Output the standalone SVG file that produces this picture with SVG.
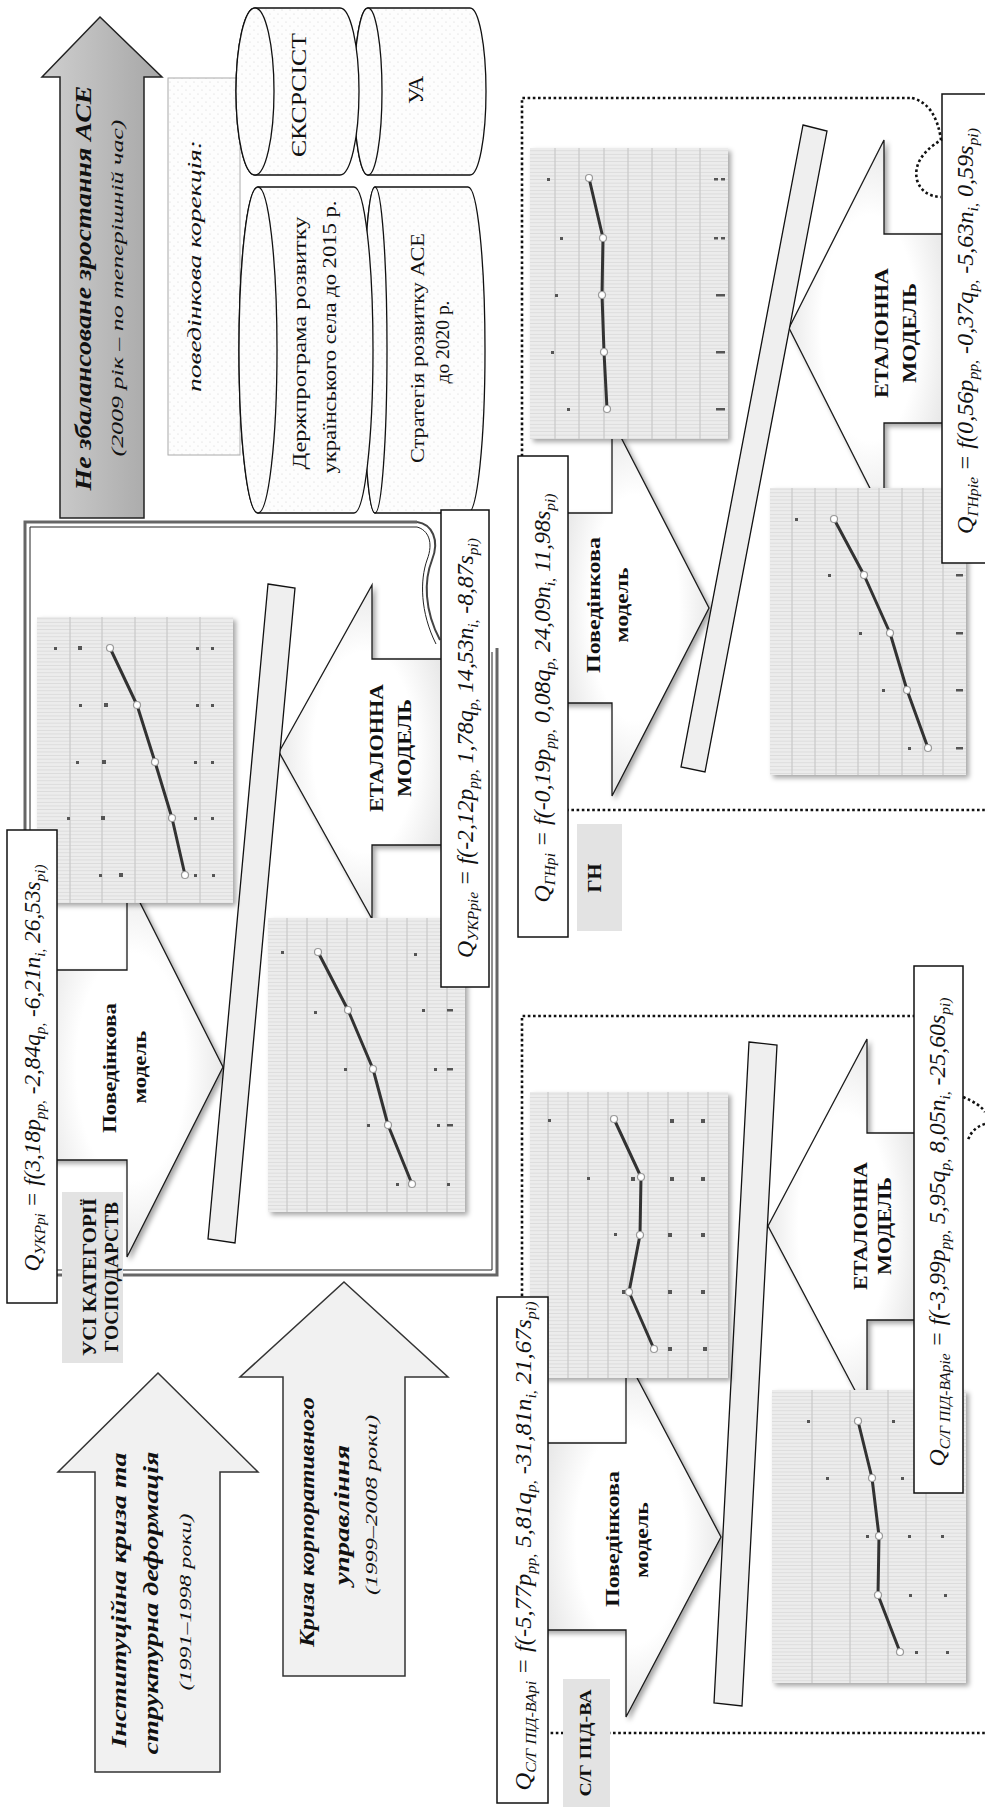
<svg xmlns="http://www.w3.org/2000/svg" width="985" height="1807" viewBox="0 0 985 1807">
<defs>
<style>
text{font-family:"Liberation Serif","DejaVu Serif",serif;fill:#111}
.b{font-weight:bold}
.i{font-style:italic}
.fm{font-style:italic;font-size:23px}
.sb{font-size:15px}
.dotf{fill:none;stroke:#111;stroke-width:2.6;stroke-dasharray:2.6 2.6}
.box{fill:#fff;stroke:#111;stroke-width:1.5}
.lab{fill:#e3e3e3}
.bar{fill:#efefef;stroke:#111;stroke-width:1.3}
.vg{stroke:#c9c9c9;stroke-width:1.2}
.dt{fill:#555}
.sl{fill:none;stroke:#333;stroke-width:3;stroke-linejoin:round}
.mk{fill:#fff;stroke:#999;stroke-width:1.2}
.cyl{fill:url(#dots);stroke:#111;stroke-width:1.3}
.arr{stroke:#1a1a1a;stroke-width:1.3}
</style>
<pattern id="fine" width="10" height="3.6" patternUnits="userSpaceOnUse"><rect width="10" height="3.6" fill="#ececec"/><rect y="3" width="10" height="0.6" fill="#d3d3d3"/></pattern>
<pattern id="dots" width="8" height="8" patternUnits="userSpaceOnUse"><rect width="8" height="8" fill="#fdfdfd"/><circle cx="2" cy="2" r="0.6" fill="#d2d2d2"/><circle cx="6" cy="6" r="0.6" fill="#d2d2d2"/></pattern>
<linearGradient id="gg" x1="0" y1="0" x2="1" y2="0"><stop offset="0" stop-color="#cfcfcf"/><stop offset="1" stop-color="#a6a6a6"/></linearGradient>
<radialGradient id="ag" cx="0.5" cy="0.5" r="0.6"><stop offset="0.5" stop-color="#ffffff"/><stop offset="1" stop-color="#dedede"/></radialGradient>
<filter id="sh" x="-10%" y="-10%" width="130%" height="130%"><feDropShadow dx="3" dy="3" stdDeviation="2.5" flood-color="#000" flood-opacity="0.35"/></filter>
</defs>
<rect width="985" height="1807" fill="#fff"/>

<g id="arrow-growth">
<polygon points="100,17 162,77 144,77 144,518 60,518 60,77 42,77" fill="url(#gg)" stroke="#222" stroke-width="1.5"/>
<text class="b i" font-size="24" transform="translate(91,288) rotate(-90)" text-anchor="middle" textLength="405" lengthAdjust="spacingAndGlyphs">Не збалансоване зростання АСЕ</text>
<text class="i" font-size="17" transform="translate(123,288) rotate(-90)" text-anchor="middle" textLength="337" lengthAdjust="spacingAndGlyphs">(2009 рік – по теперішній час)</text>
</g>

<g id="correction">
<rect x="168" y="78" width="72" height="377" fill="url(#dots)" stroke="#aaa" stroke-width="1"/>
<text class="i" font-size="19" transform="translate(201,266) rotate(-90)" text-anchor="middle" textLength="252" lengthAdjust="spacingAndGlyphs">поведінкова корекція:</text>
</g>

<g id="cyl-ua">
<path class="cyl" d="M368,8 H470 A16,83.5 0 0 1 470,175 H368 A14,83.5 0 0 1 368,8 Z"/>
<ellipse class="cyl" cx="368" cy="91.5" rx="14" ry="83.5"/>
</g>
<g id="cyl-strategy">
<path class="cyl" d="M375,187 H468 A17,163 0 0 1 468,513 H375 A12,163 0 0 1 375,187 Z"/>
<ellipse class="cyl" cx="375" cy="350" rx="12" ry="163"/>
</g>
<g id="cyl-eksrsist">
<path class="cyl" d="M255,8 H340 A19,83.5 0 0 1 340,175 H255 A19,83.5 0 0 1 255,8 Z"/>
<ellipse class="cyl" cx="255" cy="91.5" rx="19" ry="83.5"/>
</g>
<g id="cyl-derzh">
<path class="cyl" d="M258,187 H354 A19,163 0 0 1 354,513 H258 A19,163 0 0 1 258,187 Z"/>
<ellipse class="cyl" cx="258" cy="350" rx="19" ry="163"/>
</g>
<g id="cyl-texts">
<text font-size="22" transform="translate(306,95) rotate(-90)" text-anchor="middle" textLength="124" lengthAdjust="spacingAndGlyphs">ЄКСРСІСТ</text>
<text font-size="22" transform="translate(423,90) rotate(-90)" text-anchor="middle" textLength="28" lengthAdjust="spacingAndGlyphs">УА</text>
<text font-size="19" transform="translate(306,343) rotate(-90)" text-anchor="middle" textLength="253" lengthAdjust="spacingAndGlyphs">Держпрограма розвитку</text>
<text font-size="19" transform="translate(336,337) rotate(-90)" text-anchor="middle" textLength="273" lengthAdjust="spacingAndGlyphs">українського села до 2015 р.</text>
<text font-size="19" transform="translate(424,348) rotate(-90)" text-anchor="middle" textLength="230" lengthAdjust="spacingAndGlyphs">Стратегія розвитку АСЕ</text>
<text font-size="19" transform="translate(449,342) rotate(-90)" text-anchor="middle" textLength="83" lengthAdjust="spacingAndGlyphs">до 2020 р.</text>
</g>

<!-- УКР panel -->
<g id="panel-ukr">
<path d="M417,522 H25 V1275 H497 V648" fill="none" stroke="#666" stroke-width="3"/>
<path d="M417,527 H30 V1270 H492 V652" fill="none" stroke="#222" stroke-width="1"/>
<path d="M417,522 C432,524 440,540 432,560 C424,580 424,610 440,640" fill="none" stroke="#444" stroke-width="2"/>
<path d="M417,527 C428,530 434,542 427,560 C420,580 420,612 436,644" fill="none" stroke="#222" stroke-width="1"/>
<polygon class="arr" points="279,752 372,585 372,659 450,659 450,845 372,845 372,919" fill="url(#ag)" filter="url(#sh)"/>
<polygon class="arr" points="40,970 127,970 127,877 223,1067 127,1257 127,1160 40,1160" fill="url(#ag)" filter="url(#sh)"/>
<polygon class="bar" points="268,584 295,588 235,1243 208,1239"/>
<g id="chart-ukr-1" filter="url(#sh)">
<rect x="37" y="617" width="196" height="286" fill="url(#fine)"/>
<path class="vg" d="M70,617V903M102,617V903M135,617V903M167,617V903M200,617V903"/>
<g class="dt"><rect x="54" y="647" width="3" height="3"/><rect x="78" y="646" width="4" height="4"/><rect x="196" y="647" width="3" height="3"/><rect x="211" y="647" width="3" height="3"/>
<rect x="79" y="704" width="3" height="3"/><rect x="104" y="703" width="4" height="4"/><rect x="196" y="704" width="3" height="3"/><rect x="211" y="704" width="3" height="3"/>
<rect x="76" y="761" width="3" height="3"/><rect x="102" y="760" width="4" height="4"/><rect x="194" y="761" width="3" height="3"/><rect x="211" y="761" width="3" height="3"/>
<rect x="67" y="817" width="3" height="3"/><rect x="101" y="816" width="4" height="4"/><rect x="194" y="817" width="3" height="3"/><rect x="211" y="817" width="3" height="3"/>
<rect x="99" y="874" width="3" height="3"/><rect x="119" y="873" width="4" height="4"/><rect x="194" y="874" width="3" height="3"/><rect x="212" y="874" width="3" height="3"/></g>
<polyline class="sl" points="110,648 137,705 155,762 172,818 185,875"/>
<g class="mk"><circle cx="110" cy="648" r="3.5"/><circle cx="137" cy="705" r="3.5"/><circle cx="155" cy="762" r="3.5"/><circle cx="172" cy="818" r="3.5"/><circle cx="185" cy="875" r="3.5"/></g>
</g>
<g id="chart-ukr-2" filter="url(#sh)">
<rect x="268" y="918" width="197" height="294" fill="url(#fine)"/>
<path class="vg" d="M287,918V1212M307,918V1212M327,918V1212M347,918V1212M367,918V1212M387,918V1212M407,918V1212M427,918V1212M447,918V1212"/>
<g class="dt"><rect x="281" y="951" width="3" height="3"/><rect x="314" y="1011" width="3" height="3"/><rect x="414" y="953" width="3" height="3"/>
<rect x="344" y="1068" width="3" height="3"/><rect x="367" y="1124" width="3" height="3"/><rect x="396" y="1183" width="3" height="3"/>
<rect x="422" y="1009" width="3" height="3"/><rect x="434" y="1068" width="3" height="3"/><rect x="437" y="1124" width="3" height="3"/><rect x="447" y="1183" width="3" height="3"/>
<rect x="447" y="1009" width="6" height="2.5"/><rect x="447" y="1068" width="6" height="2.5"/><rect x="447" y="1124" width="6" height="2.5"/></g>
<polyline class="sl" points="318,952 348,1010 373,1069 388,1125 412,1184"/>
<g class="mk"><circle cx="318" cy="952" r="3.5"/><circle cx="348" cy="1010" r="3.5"/><circle cx="373" cy="1069" r="3.5"/><circle cx="388" cy="1125" r="3.5"/><circle cx="412" cy="1184" r="3.5"/></g>
</g>
<text class="b" font-size="19" transform="translate(116,1068) rotate(-90)" text-anchor="middle" textLength="130" lengthAdjust="spacingAndGlyphs">Поведінкова</text>
<text class="b" font-size="19" transform="translate(146,1067) rotate(-90)" text-anchor="middle" textLength="73" lengthAdjust="spacingAndGlyphs">модель</text>
<text class="b" font-size="19" transform="translate(383,748) rotate(-90)" text-anchor="middle" textLength="128" lengthAdjust="spacingAndGlyphs">ЕТАЛОННА</text>
<text class="b" font-size="19" transform="translate(411,748) rotate(-90)" text-anchor="middle" textLength="98" lengthAdjust="spacingAndGlyphs">МОДЕЛЬ</text>
</g>
<g id="label-ukr">
<rect class="lab" x="62" y="1192" width="61" height="171"/>
<text class="b" font-size="19" transform="translate(96,1277) rotate(-90)" text-anchor="middle" textLength="158" lengthAdjust="spacingAndGlyphs">УСІ КАТЕГОРІЇ</text>
<text class="b" font-size="19" transform="translate(118,1277) rotate(-90)" text-anchor="middle" textLength="150" lengthAdjust="spacingAndGlyphs">ГОСПОДАРСТВ</text>
</g>
<g id="formula-ukr-pi">
<rect class="box" x="7" y="830" width="50" height="473"/>
<text class="fm" transform="translate(40,1068) rotate(-90)" text-anchor="middle" textLength="407" lengthAdjust="spacingAndGlyphs">Q<tspan class="sb" dy="5">УКРpi</tspan><tspan dy="-5"> = f(3,18p</tspan><tspan class="sb" dy="5">pp,</tspan><tspan dy="-5"> -2,84q</tspan><tspan class="sb" dy="5">p,</tspan><tspan dy="-5"> -6,21n</tspan><tspan class="sb" dy="5">i,</tspan><tspan dy="-5"> 26,53s</tspan><tspan class="sb" dy="5">pi)</tspan></text>
</g>
<g id="formula-ukr-pie">
<rect class="box" x="441" y="510" width="48" height="477"/>
<text class="fm" transform="translate(473,748) rotate(-90)" text-anchor="middle" textLength="420" lengthAdjust="spacingAndGlyphs">Q<tspan class="sb" dy="5">УКРpie</tspan><tspan dy="-5"> = f(-2,12p</tspan><tspan class="sb" dy="5">pp,</tspan><tspan dy="-5"> 1,78q</tspan><tspan class="sb" dy="5">p,</tspan><tspan dy="-5"> 14,53n</tspan><tspan class="sb" dy="5">i,</tspan><tspan dy="-5"> -8,87s</tspan><tspan class="sb" dy="5">pi)</tspan></text>
</g>

<g id="arrow-crisis1">
<polygon points="158,1373 258,1472 220,1472 220,1772 95,1772 95,1472 58,1472" fill="#f1f1f1" stroke="#333" stroke-width="1.5"/>
<text class="b i" font-size="22" transform="translate(126,1600) rotate(-90)" text-anchor="middle" textLength="295" lengthAdjust="spacingAndGlyphs">Інституційна криза та</text>
<text class="b i" font-size="22" transform="translate(158,1603) rotate(-90)" text-anchor="middle" textLength="303" lengthAdjust="spacingAndGlyphs">структурна деформація</text>
<text class="i" font-size="16" transform="translate(191,1602) rotate(-90)" text-anchor="middle" textLength="177" lengthAdjust="spacingAndGlyphs">(1991–1998 роки)</text>
</g>
<g id="arrow-crisis2">
<polygon points="344,1282 448,1377 405,1377 405,1676 283,1676 283,1377 240,1377" fill="#f1f1f1" stroke="#333" stroke-width="1.5"/>
<text class="b i" font-size="22" transform="translate(314,1522) rotate(-90)" text-anchor="middle" textLength="250" lengthAdjust="spacingAndGlyphs">Криза корпоративного</text>
<text class="b i" font-size="22" transform="translate(349,1515) rotate(-90)" text-anchor="middle" textLength="140" lengthAdjust="spacingAndGlyphs">управління</text>
<text class="i" font-size="16" transform="translate(377,1505) rotate(-90)" text-anchor="middle" textLength="180" lengthAdjust="spacingAndGlyphs">(1999–2008 роки)</text>
</g>

<!-- ГН panel -->
<g id="panel-gn">
<path class="dotf" d="M990,810 H522 V98 H912"/>
<polygon class="arr" points="789,328 884,140 884,234 950,234 950,423 884,423 884,516" fill="url(#ag)" filter="url(#sh)"/>
<polygon class="arr" points="560,513 612,513 612,420 709,608 612,796 612,703 560,703" fill="url(#ag)" filter="url(#sh)"/>
<polygon class="bar" points="803,125 827,131 705,772 681,767"/>
<g id="chart-gn-1" filter="url(#sh)">
<rect x="530" y="148" width="198" height="291" fill="url(#fine)"/>
<path class="vg" d="M555,148V439M579,148V439M604,148V439M628,148V439M652,148V439M676,148V439M700,148V439"/>
<g class="dt"><rect x="547" y="178" width="3" height="3"/><rect x="560" y="237" width="3" height="3"/><rect x="555" y="294" width="3" height="3"/><rect x="551" y="351" width="3" height="3"/><rect x="567" y="408" width="3" height="3"/>
<rect x="714" y="178" width="4" height="2.5"/><rect x="721" y="178" width="4" height="2.5"/><rect x="714" y="237" width="4" height="2.5"/><rect x="721" y="237" width="4" height="2.5"/><rect x="716" y="294" width="9" height="2.5"/><rect x="716" y="351" width="9" height="2.5"/><rect x="716" y="408" width="9" height="2.5"/></g>
<polyline class="sl" points="589,178 603,238 602,295 604,352 607,409"/>
<g class="mk"><circle cx="589" cy="178" r="3.5"/><circle cx="603" cy="238" r="3.5"/><circle cx="602" cy="295" r="3.5"/><circle cx="604" cy="352" r="3.5"/><circle cx="607" cy="409" r="3.5"/></g>
</g>
<g id="chart-gn-2" filter="url(#sh)">
<rect x="770" y="488" width="196" height="287" fill="url(#fine)"/>
<path class="vg" d="M792,488V775M815,488V775M836,488V775M858,488V775M879,488V775M902,488V775M923,488V775M943,488V775"/>
<g class="dt"><rect x="795" y="518" width="3" height="3"/><rect x="828" y="574" width="3" height="3"/><rect x="859" y="632" width="3" height="3"/><rect x="882" y="689" width="3" height="3"/><rect x="908" y="747" width="3" height="3"/>
<rect x="956" y="574" width="7" height="2.5"/><rect x="956" y="632" width="7" height="2.5"/><rect x="956" y="689" width="7" height="2.5"/><rect x="956" y="747" width="7" height="2.5"/></g>
<polyline class="sl" points="834,519 864,575 890,633 907,690 928,748"/>
<g class="mk"><circle cx="834" cy="519" r="3.5"/><circle cx="864" cy="575" r="3.5"/><circle cx="890" cy="633" r="3.5"/><circle cx="907" cy="690" r="3.5"/><circle cx="928" cy="748" r="3.5"/></g>
</g>
<text class="b" font-size="19" transform="translate(600,605) rotate(-90)" text-anchor="middle" textLength="136" lengthAdjust="spacingAndGlyphs">Поведінкова</text>
<text class="b" font-size="19" transform="translate(628,605) rotate(-90)" text-anchor="middle" textLength="75" lengthAdjust="spacingAndGlyphs">модель</text>
<text class="b" font-size="19" transform="translate(888,333) rotate(-90)" text-anchor="middle" textLength="130" lengthAdjust="spacingAndGlyphs">ЕТАЛОННА</text>
<text class="b" font-size="19" transform="translate(916,333) rotate(-90)" text-anchor="middle" textLength="100" lengthAdjust="spacingAndGlyphs">МОДЕЛЬ</text>
</g>
<g id="label-gn">
<rect class="lab" x="577" y="824" width="45" height="107"/>
<text class="b" font-size="19" transform="translate(601,878) rotate(-90)" text-anchor="middle" textLength="29" lengthAdjust="spacingAndGlyphs">ГН</text>
</g>
<g id="formula-gn-pi">
<rect class="box" x="518" y="456" width="50" height="481"/>
<text class="fm" transform="translate(550,698) rotate(-90)" text-anchor="middle" textLength="409" lengthAdjust="spacingAndGlyphs">Q<tspan class="sb" dy="5">ГНpi</tspan><tspan dy="-5"> = f(-0,19p</tspan><tspan class="sb" dy="5">pp,</tspan><tspan dy="-5"> 0,08q</tspan><tspan class="sb" dy="5">p,</tspan><tspan dy="-5"> 24,09n</tspan><tspan class="sb" dy="5">i,</tspan><tspan dy="-5"> 11,98s</tspan><tspan class="sb" dy="5">pi)</tspan></text>
</g>
<g id="formula-gn-pie">
<rect class="box" x="942" y="94" width="50" height="469"/>
<text class="fm" transform="translate(973,331) rotate(-90)" text-anchor="middle" textLength="406" lengthAdjust="spacingAndGlyphs">Q<tspan class="sb" dy="5">ГНpie</tspan><tspan dy="-5"> = f(0,56p</tspan><tspan class="sb" dy="5">pp,</tspan><tspan dy="-5"> -0,37q</tspan><tspan class="sb" dy="5">p,</tspan><tspan dy="-5"> -5,63n</tspan><tspan class="sb" dy="5">i,</tspan><tspan dy="-5"> 0,59s</tspan><tspan class="sb" dy="5">pi)</tspan></text>
</g>

<!-- С/Г panel -->
<g id="panel-sg">
<path class="dotf" d="M990,1733 H522 V1016 H914"/>
<polygon class="arr" points="768,1226 867,1039 867,1133 920,1133 920,1320 867,1320 867,1413" fill="url(#ag)" filter="url(#sh)"/>
<polygon class="arr" points="540,1443 626,1443 626,1357 721,1537 626,1717 626,1630 540,1630" fill="url(#ag)" filter="url(#sh)"/>
<polygon class="bar" points="749,1042 777,1045 742,1706 714,1703"/>
<g id="chart-sg-1" filter="url(#sh)">
<rect x="530" y="1092" width="198" height="286" fill="url(#fine)"/>
<path class="vg" d="M548,1092V1378M568,1092V1378M588,1092V1378M608,1092V1378M628,1092V1378M648,1092V1378M668,1092V1378M688,1092V1378M708,1092V1378"/>
<g class="dt"><rect x="548" y="1119" width="3" height="3"/><rect x="670" y="1119" width="4" height="4"/><rect x="701" y="1119" width="4" height="4"/>
<rect x="587" y="1177" width="3" height="3"/><rect x="631" y="1177" width="4" height="4"/><rect x="670" y="1177" width="4" height="4"/><rect x="701" y="1177" width="4" height="4"/>
<rect x="614" y="1233" width="3" height="3"/><rect x="668" y="1233" width="4" height="4"/><rect x="701" y="1233" width="4" height="4"/>
<rect x="622" y="1290" width="4" height="4"/><rect x="668" y="1290" width="4" height="4"/><rect x="701" y="1290" width="4" height="4"/>
<rect x="668" y="1347" width="4" height="4"/><rect x="703" y="1347" width="4" height="4"/></g>
<polyline class="sl" points="614,1119 641,1177 640,1235 629,1292 654,1349"/>
<g class="mk"><circle cx="614" cy="1119" r="3.5"/><circle cx="641" cy="1177" r="3.5"/><circle cx="640" cy="1235" r="3.5"/><circle cx="629" cy="1292" r="3.5"/><circle cx="654" cy="1349" r="3.5"/></g>
</g>
<g id="chart-sg-2" filter="url(#sh)">
<rect x="772" y="1390" width="194" height="293" fill="url(#fine)"/>
<path class="vg" d="M812,1390V1683M850,1390V1683M888,1390V1683M926,1390V1683"/>
<g class="dt"><rect x="807" y="1420" width="3" height="3"/><rect x="892" y="1420" width="3" height="3"/><rect x="826" y="1477" width="3" height="3"/><rect x="901" y="1477" width="3" height="3"/>
<rect x="866" y="1535" width="3" height="3"/><rect x="908" y="1535" width="3" height="3"/><rect x="941" y="1535" width="3" height="3"/>
<rect x="909" y="1594" width="3" height="3"/><rect x="944" y="1594" width="3" height="3"/><rect x="915" y="1651" width="3" height="3"/><rect x="946" y="1651" width="3" height="3"/></g>
<polyline class="sl" points="858,1421 872,1478 879,1536 878,1595 900,1652"/>
<g class="mk"><circle cx="858" cy="1421" r="3.5"/><circle cx="872" cy="1478" r="3.5"/><circle cx="879" cy="1536" r="3.5"/><circle cx="878" cy="1595" r="3.5"/><circle cx="900" cy="1652" r="3.5"/></g>
</g>
<text class="b" font-size="19" transform="translate(619,1539) rotate(-90)" text-anchor="middle" textLength="136" lengthAdjust="spacingAndGlyphs">Поведінкова</text>
<text class="b" font-size="19" transform="translate(648,1540) rotate(-90)" text-anchor="middle" textLength="76" lengthAdjust="spacingAndGlyphs">модель</text>
<text class="b" font-size="19" transform="translate(867,1226) rotate(-90)" text-anchor="middle" textLength="128" lengthAdjust="spacingAndGlyphs">ЕТАЛОННА</text>
<text class="b" font-size="19" transform="translate(891,1226) rotate(-90)" text-anchor="middle" textLength="98" lengthAdjust="spacingAndGlyphs">МОДЕЛЬ</text>
</g>
<g id="label-sg">
<rect class="lab" x="563" y="1679" width="47" height="128"/>
<text class="b" font-size="17" transform="translate(591,1743) rotate(-90)" text-anchor="middle" textLength="107" lengthAdjust="spacingAndGlyphs">С/Г ПІД-ВА</text>
</g>
<g id="formula-sg-pi">
<rect class="box" x="497" y="1297" width="51" height="506"/>
<text class="fm" transform="translate(531,1546) rotate(-90)" text-anchor="middle" textLength="489" lengthAdjust="spacingAndGlyphs">Q<tspan class="sb" dy="5">С/Г ПІД-ВАpi</tspan><tspan dy="-5"> = f(-5,77p</tspan><tspan class="sb" dy="5">pp,</tspan><tspan dy="-5"> 5,81q</tspan><tspan class="sb" dy="5">p,</tspan><tspan dy="-5"> -31,81n</tspan><tspan class="sb" dy="5">i,</tspan><tspan dy="-5"> 21,67s</tspan><tspan class="sb" dy="5">pi)</tspan></text>
</g>
<g id="formula-sg-pie">
<rect class="box" x="914" y="966" width="49" height="527"/>
<text class="fm" transform="translate(945,1232) rotate(-90)" text-anchor="middle" textLength="469" lengthAdjust="spacingAndGlyphs">Q<tspan class="sb" dy="5">С/Г ПІД-ВАpie</tspan><tspan dy="-5"> = f(-3,99p</tspan><tspan class="sb" dy="5">pp,</tspan><tspan dy="-5"> 5,95q</tspan><tspan class="sb" dy="5">p,</tspan><tspan dy="-5"> 8,05n</tspan><tspan class="sb" dy="5">i,</tspan><tspan dy="-5"> -25,60s</tspan><tspan class="sb" dy="5">pi)</tspan></text>
</g>

<g id="connectors">
<path class="dotf" d="M912,98 Q936,104 941,140 Q912,158 917,180 Q922,196 941,197"/>
<path class="dotf" d="M963,1097 Q980,1104 985,1112 M985,1124 Q972,1128 968,1140"/>
</g>
</svg>
